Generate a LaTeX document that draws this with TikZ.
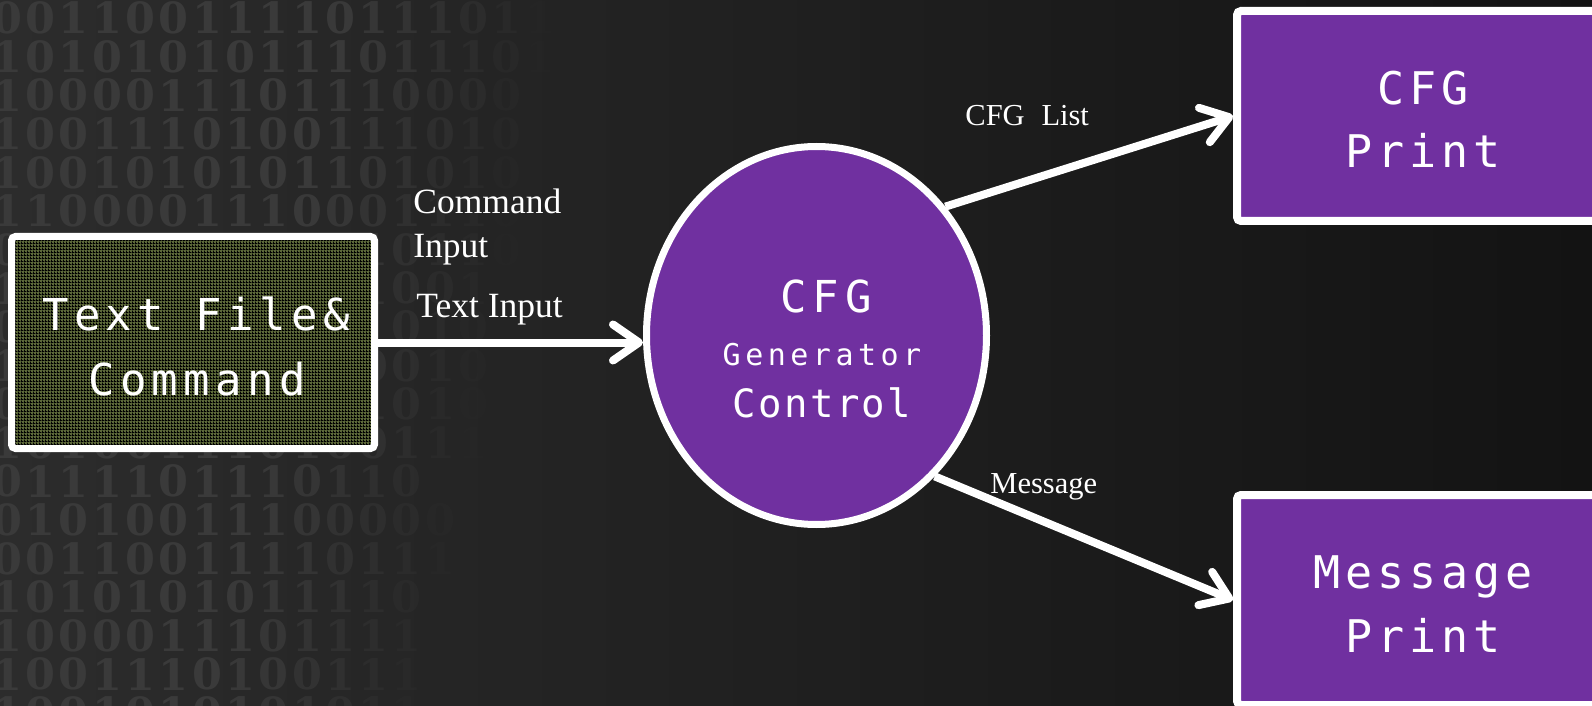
\documentclass[tikz,border=0pt]{standalone}
\usepackage{fontspec}
\usetikzlibrary{arrows.meta,shapes.geometric,patterns.meta}
\setmainfont{Liberation Serif}
\newfontfamily\monoL[LetterSpace=12]{DejaVu Sans Mono}
\newfontfamily\monoR[LetterSpace=11]{DejaVu Sans Mono}
\newfontfamily\monoC[LetterSpace=14]{DejaVu Sans Mono}
\newfontfamily\monoG[LetterSpace=15]{DejaVu Sans Mono}
\newfontfamily\monoK[LetterSpace=6]{DejaVu Sans Mono}
\newfontfamily\digitfont{DejaVu Serif}
\definecolor{bgL}{HTML}{2C2C2C}
\definecolor{bgR}{HTML}{131313}
\definecolor{digitc}{HTML}{3A3A3A}
\definecolor{purp}{HTML}{7030A0}
\definecolor{olivefill}{HTML}{5C6839}
\tikzdeclarepattern{
  name=finegrid,
  type=uncolored,
  bounding box={(0pt,0pt) and (1.5pt,1.5pt)},
  tile size={(1.5pt,1.5pt)},
  code={
    \pgfsetlinewidth{0.5pt}
    \pgfpathmoveto{\pgfpoint{0pt}{0.25pt}}\pgfpathlineto{\pgfpoint{1.5pt}{0.25pt}}
    \pgfpathmoveto{\pgfpoint{0.25pt}{0pt}}\pgfpathlineto{\pgfpoint{0.25pt}{1.5pt}}
    \pgfusepath{stroke}
  }
}
\newcounter{bcol}
\def\bdig#1{\ifx\relax#1\else\bput{#1}\expandafter\bdig\fi}
\newcommand\bput[1]{%
  \pgfmathsetmacro\bx{7.3+33.3*\value{bcol}}%
  \pgfmathsetmacro\bop{max(0,min(1,(\bfe-\bx)/220))}%
  \node[digit, opacity=\bop] (bd-\brn-\arabic{bcol}) at (\bx,\by) {#1};%
  \stepcounter{bcol}}
\newcommand\brow[3]{%
  \setcounter{bcol}{0}\def\brn{#1}\def\by{#2}%
  \pgfmathsetmacro\bfe{560-0.17*#2}%
  \bdig#3\relax}
\begin{document}
\begin{tikzpicture}[x=0.5pt,y=-0.5pt,
  digit/.style={font=\digitfont\bfseries\fontsize{21.5pt}{21.5pt}\selectfont, text=digitc, inner sep=0pt, anchor=center},
  boxrect/.style={rectangle, rounded corners=2pt, draw=white, inner sep=0pt},
  monotext/.style={text=white, inner sep=0pt, anchor=base},
  lbl/.style={text=white, inner sep=0pt, anchor=base west},
  arr/.style={draw=white, line width=4pt, -{Straight Barb[length=13pt,width=18pt,round]}}
]
\useasboundingbox (0,0) rectangle (1592,706);
\shade[left color=bgL, right color=bgR] (0,0) rectangle (1592,706);
% binary background
\brow{0}{18}{00110011110111011}
\brow{1}{56.6}{10101010111011101}
\brow{2}{95.2}{10000111011100000}
\brow{3}{133.8}{10011101001110101}
\brow{4}{172.4}{10010101011010101}
\brow{5}{211}{11000011100011100}
\brow{6}{249.6}{01101001011101101}
\brow{7}{288.2}{10110100101100110}
\brow{8}{326.8}{00101110100101011}
\brow{9}{365.4}{11010010111001010}
\brow{10}{404}{01011100101101001}
\brow{11}{442.6}{10100111010011100}
\brow{12}{481.2}{0111101110110}
\brow{13}{519.8}{01010011100000}
\brow{14}{558.4}{00110011110111}
\brow{15}{597}{1010101011110}
\brow{16}{635.6}{1000011101111}
\brow{17}{674.2}{1001110100111}
\brow{18}{712.8}{1001010101011}
% nodes
\node[boxrect, line width=3.5pt, preaction={fill=olivefill}, pattern=finegrid, pattern color=black,
      minimum width=181.5pt, minimum height=106pt] (src) at (193,342.5) {};
\node[ellipse, draw=white, line width=3.5pt, fill=purp, inner sep=0pt,
      minimum width=170pt, minimum height=189pt] (circ) at (816.5,335.5) {};
\node[boxrect, line width=4pt, fill=purp, minimum width=183.5pt, minimum height=105pt] (cfgp) at (1420.5,116) {};
\node[boxrect, line width=4pt, fill=purp, minimum width=183.5pt, minimum height=105pt] (msgp) at (1420.5,600) {};
% texts in shapes
\node[monotext, font=\monoL\fontsize{22pt}{22pt}\selectfont] (src1) at (196,330) {Text File\&};
\node[monotext, font=\monoL\fontsize{22pt}{22pt}\selectfont] (src2) at (197,395) {Command};
\node[monotext, font=\monoC\fontsize{22pt}{22pt}\selectfont] (c1) at (826,312) {CFG};
\node[monotext, font=\monoG\fontsize{15pt}{15pt}\selectfont] (c2) at (822,365) {Generator};
\node[monotext, font=\monoK\fontsize{19.5pt}{19.5pt}\selectfont] (c3) at (822,417) {Control};
\node[monotext, font=\monoR\fontsize{22.5pt}{22.5pt}\selectfont] (p1) at (1423,105) {CFG};
\node[monotext, font=\monoR\fontsize{22.5pt}{22.5pt}\selectfont] (p2) at (1423,168) {Print};
\node[monotext, font=\monoR\fontsize{22.5pt}{22.5pt}\selectfont] (m1) at (1423,588) {Message};
\node[monotext, font=\monoR\fontsize{22.5pt}{22.5pt}\selectfont] (m2) at (1423,652) {Print};
% connectors
\draw[arr] (src.east) -- (circ.west |- src.east);
\draw[arr] (circ.45) -- (cfgp.west);
\draw[arr] (circ.-50) -- (msgp.west);
% labels
\node[lbl, font=\fontsize{17.75pt}{22pt}\selectfont, align=left] (lcmd) at (413,257) {Command\\Input};
\node[lbl, font=\fontsize{17.75pt}{22pt}\selectfont] (ltxt) at (416,317) {Text Input};
\node[lbl, font=\fontsize{15.25pt}{18pt}\selectfont] (lcfg) at (965,126) {CFG\hspace{0.55em}List};
\node[lbl, font=\fontsize{15.25pt}{18pt}\selectfont] (lmsg) at (990,493) {Message};
\end{tikzpicture}
\end{document}
